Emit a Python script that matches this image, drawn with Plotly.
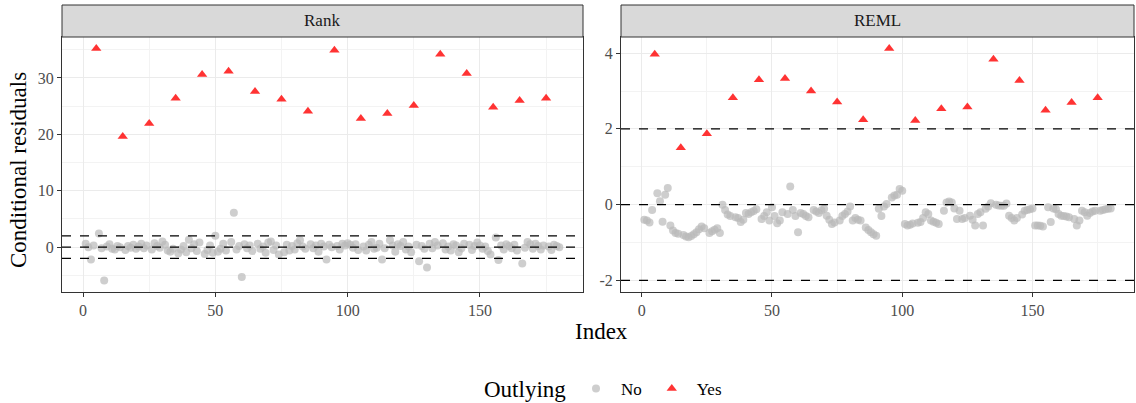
import plotly.graph_objects as go

# ---------------- data ----------------
index = list(range(1, 181))
outlier_idx = list(range(5, 180, 10))

rank_resid = [
    0.6, 0.0, -2.2, 0.3, 35.2, 2.4, -0.2, -5.9, 0.1, 0.5,
    -0.3, -0.4, 0.2, 0.0, 19.6, -0.5, 0.2, -0.1, 0.4, -0.3,
    0.1, 0.6, -0.2, 0.3, 21.9, -0.4, 0.7, 0.2, -0.1, 1.0,
    0.4, -0.6, -0.8, -0.3, 26.4, -1.1, -0.4, 0.2, -0.9, 1.3,
    -0.2, 0.5, -0.7, 0.8, 30.6, -1.2, -0.5, 0.3, -1.0, 2.0,
    -0.8, -0.3, 0.6, -0.6, 31.2, 0.9, 6.1, -0.4, 0.2, -5.3,
    0.5, -0.2, 0.3, -0.7, 27.6, 0.6, -0.3, 0.1, -1.0, 0.8,
    1.0, -0.5, 0.3, -1.3, 26.2, -0.9, 0.4, -0.6, 0.2, -0.4,
    0.7, 1.2, 0.1, -0.3, 24.1, 0.5, -0.2, 0.3, -0.8, 0.6,
    0.1, -2.2, 0.4, 0.0, 34.9, 0.2, -0.4, 0.6, 0.3, 0.7,
    0.4, -0.1, 0.5, -0.5, 22.8, 0.1, -0.6, 0.4, 0.9, -0.3,
    -0.1, 0.6, -2.2, -0.2, 23.7, 1.2, 0.3, -0.8, 0.5, 0.2,
    0.9, -0.4, 0.1, -0.9, 25.1, 0.4, -2.5, 0.2, -0.3, -3.6,
    0.6, -0.2, 0.9, 0.3, 34.2, 0.7, -0.4, 0.1, -0.6, 0.5,
    0.3, -0.9, -0.2, 0.6, 30.8, 0.4, -0.5, 0.2, 0.8, 0.3,
    -0.3, 0.1, -0.7, -1.3, 24.8, 1.7, -2.3, 0.3, -0.4, 0.5,
    0.2, -0.2, 0.4, -0.6, 26.0, -2.9, -0.1, 0.9, 0.5, -0.3,
    0.6, 0.2, -0.4, 0.3, 26.4, 0.1, -0.5, 0.4, 0.2, 0.0,
]

reml_resid = [
    -0.40, -0.42, -0.47, -0.14, 3.97, 0.30, 0.09, -0.45, 0.26, 0.44,
    -0.55, -0.68, -0.75, -0.77, 1.50, -0.80, -0.84, -0.86, -0.83, -0.78,
    -0.73, -0.65, -0.58, -0.62, 1.87, -0.75, -0.70, -0.66, -0.62, -0.75,
    0.00, -0.14, -0.26, -0.30, 2.82, -0.33, -0.35, -0.46, -0.40, -0.22,
    -0.25, -0.20, -0.17, -0.12, 3.30, -0.38, -0.30, -0.20, -0.42, -0.07,
    -0.30, -0.49, -0.42, -0.20, 3.33, -0.25, 0.48, -0.14, -0.30, -0.73,
    -0.22, -0.25, -0.30, -0.33, 3.00, -0.14, -0.18, -0.22, -0.15, -0.11,
    -0.29, -0.40, -0.51, -0.47, 2.71, -0.42, -0.30, -0.25, -0.18, -0.05,
    -0.42, -0.35, -0.40, -0.42, 2.24, -0.60, -0.67, -0.73, -0.78, -0.82,
    -0.11, -0.30, -0.05, 0.02, 4.12, 0.19, 0.24, 0.26, 0.41, 0.37,
    -0.51, -0.55, -0.53, -0.50, 2.22, -0.48, -0.46, -0.35, -0.20, -0.25,
    -0.42, -0.45, -0.48, -0.51, 2.53, -0.16, 0.06, 0.08, 0.06, -0.10,
    -0.38, -0.16, -0.38, -0.35, 2.58, -0.29, -0.40, -0.55, -0.25, -0.20,
    -0.55, -0.11, -0.05, 0.04, 3.84, 0.00, -0.02, -0.03, -0.03, 0.03,
    -0.29, -0.35, -0.42, -0.35, 3.28, -0.26, -0.16, -0.14, -0.12, -0.10,
    -0.55, -0.55, -0.56, -0.58, 2.49, -0.07, -0.46, -0.10, -0.12, -0.25,
    -0.29, -0.30, -0.31, -0.33, 2.70, -0.38, -0.55, -0.42, -0.16, -0.20,
    -0.29, -0.22, -0.18, -0.16, 2.82, -0.16, -0.14, -0.12, -0.11, -0.10,
]

panels = ["Rank", "REML"]
rank_yticks = [0, 10, 20, 30]
reml_yticks = [-2, 0, 2, 4]
x_ticks = [0, 50, 100, 150]
cutoffs = [-2, 0, 2]

# ---------------- styling ----------------
FONT = "Liberation Serif"
W, H = 1136, 403
GREY_PT = "rgba(185,185,185,0.7)"
RED_PT = "rgba(255,0,0,0.8)"

def px_x(p):
    return p / W

def px_y(p):
    return 1 - p / H

dom_rank = [px_x(62), px_x(583)]
dom_reml = [px_x(621), px_x(1134)]
dom_y = [px_y(292), px_y(37)]
strip_y = [px_y(37), px_y(5)]

fig = go.Figure()

def add_panel(vals, xa, ya, showlegend):
    no_x = [i for i in index if i not in outlier_idx]
    no_y = [vals[i - 1] for i in no_x]
    yes_x = [i for i in index if i in outlier_idx]
    yes_y = [vals[i - 1] for i in yes_x]
    fig.add_trace(go.Scatter(
        x=no_x, y=no_y, mode="markers", name="No", legendgroup="No",
        showlegend=showlegend, xaxis=xa, yaxis=ya,
        marker=dict(symbol="circle", size=8, color=GREY_PT, line=dict(width=0)),
    ))
    fig.add_trace(go.Scatter(
        x=yes_x, y=yes_y, mode="markers", name="Yes", legendgroup="Yes",
        showlegend=showlegend, xaxis=xa, yaxis=ya,
        marker=dict(symbol="triangle-up", size=9, color=RED_PT, line=dict(width=0)),
    ))

add_panel(rank_resid, "x", "y", True)
add_panel(reml_resid, "x2", "y2", False)

xrange = [1 - 0.05 * 179, 180 + 0.05 * 179]

def yrange(vals, extra):
    lo = min(min(vals), min(extra))
    hi = max(max(vals), max(extra))
    pad = 0.05 * (hi - lo)
    return [lo - pad, hi + pad]

axis_common = dict(
    showline=True, linecolor="#333333", linewidth=1, mirror=True,
    ticks="outside", ticklen=4, tickcolor="#333333", tickwidth=1,
    tickfont=dict(family=FONT, size=16, color="#4D4D4D"),
    gridcolor="#EBEBEB", gridwidth=1, zeroline=False, automargin=False,
    minor=dict(showgrid=True, gridcolor="#F3F3F3", gridwidth=0.6),
)

fig.update_layout(
    xaxis=dict(domain=dom_rank, range=xrange, anchor="y", tickvals=x_ticks,
               ticktext=[str(v) for v in x_ticks], **axis_common),
    xaxis2=dict(domain=dom_reml, range=xrange, anchor="y2", tickvals=x_ticks,
                ticktext=[str(v) for v in x_ticks], **axis_common),
    yaxis=dict(domain=dom_y, range=yrange(rank_resid, cutoffs), anchor="x",
               tickvals=rank_yticks, ticktext=[str(v) for v in rank_yticks], **axis_common),
    yaxis2=dict(domain=dom_y, range=yrange(reml_resid, cutoffs), anchor="x2",
                tickvals=reml_yticks, ticktext=[str(v) for v in reml_yticks], **axis_common),
)
fig.update_xaxes(minor=dict(tickvals=[25, 75, 125, 175]))
fig.layout.yaxis.minor.tickvals = [-5, 5, 15, 25, 35]
fig.layout.yaxis2.minor.tickvals = [-1, 1, 3]

shapes = []
for xr, yr in [("x domain", "y"), ("x2 domain", "y2")]:
    for c in cutoffs:
        shapes.append(dict(type="line", xref=xr, yref=yr, x0=0, x1=1, y0=c, y1=c,
                           line=dict(color="black", width=1.1, dash="dash"), layer="above"))
# strips
annotations = []
for dom, label in [(dom_rank, panels[0]), (dom_reml, panels[1])]:
    shapes.append(dict(type="rect", xref="paper", yref="paper",
                       x0=dom[0], x1=dom[1], y0=strip_y[0], y1=strip_y[1],
                       fillcolor="#D9D9D9", line=dict(color="#333333", width=1)))
    annotations.append(dict(text=label, xref="paper", yref="paper",
                            x=(dom[0] + dom[1]) / 2, y=(strip_y[0] + strip_y[1]) / 2,
                            showarrow=False, xanchor="center", yanchor="middle",
                            font=dict(family=FONT, size=17, color="#1A1A1A")))

annotations.append(dict(text="Index", xref="paper", yref="paper", x=px_x(601), y=px_y(331),
                        showarrow=False, xanchor="center", yanchor="middle",
                        font=dict(family=FONT, size=23, color="black")))
annotations.append(dict(text="Conditional residuals", xref="paper", yref="paper",
                        x=px_x(18), y=px_y(170), textangle=-90,
                        showarrow=False, xanchor="center", yanchor="middle",
                        font=dict(family=FONT, size=23, color="black")))
# legend title
annotations.append(dict(text="Outlying", xref="paper", yref="paper", x=px_x(525), y=px_y(389),
                        showarrow=False, xanchor="center", yanchor="middle",
                        font=dict(family=FONT, size=23, color="black")))

fig.update_layout(
    width=W, height=H,
    margin=dict(l=0, r=0, t=0, b=0, autoexpand=False),
    paper_bgcolor="white", plot_bgcolor="white",
    shapes=shapes, annotations=annotations,
    showlegend=True,
    legend=dict(orientation="h", x=px_x(571), xanchor="left", y=px_y(389), yanchor="middle",
                font=dict(family=FONT, size=17, color="black"),
                itemwidth=40, bgcolor="rgba(0,0,0,0)"),
)

fig.write_html("out.html")
